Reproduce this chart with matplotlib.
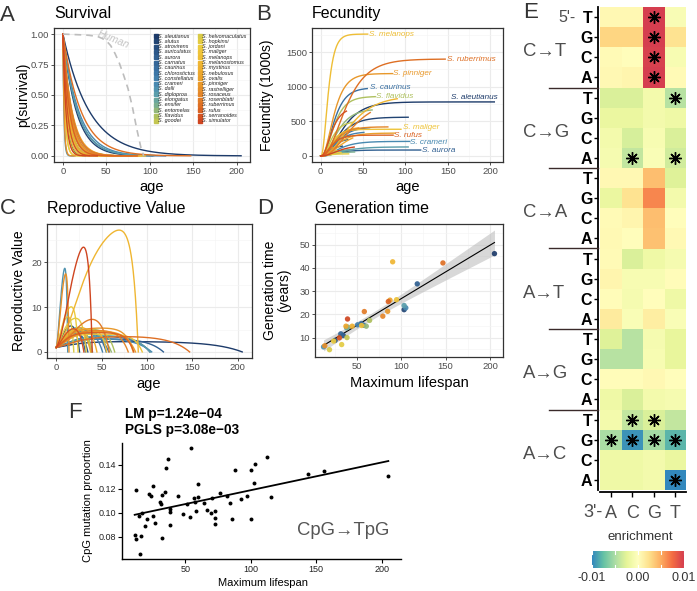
import numpy as np
import matplotlib
matplotlib.use('Agg')
import matplotlib.pyplot as plt
from matplotlib.colors import LinearSegmentedColormap
from matplotlib.lines import Line2D
from matplotlib.ticker import MultipleLocator, FormatStrFormatter

plt.rcParams['font.family'] = ['Liberation Sans', 'DejaVu Sans']

# ---------------- data: rockfish life history (panels A-D) ----------------
species = ['aleutianus', 'alutus', 'atrovirens', 'auriculatus', 'aurora', 'carnatus',
           'caurinus', 'chlorostictus', 'constellatus', 'crameri', 'dalli', 'diploproa',
           'elongatus', 'ensifer', 'entomelas', 'flavidus', 'goodei', 'helvomaculatus',
           'hopkinsi', 'jordani', 'maliger', 'melanops', 'melanostomus', 'mystinus',
           'nebulosus', 'ovalis', 'pinniger', 'rastrelliger', 'rosaceus', 'rosenblatti',
           'ruberrimus', 'rufus', 'serranoides', 'simulator']
max_age = [205, 103.3, 25.6, 34.8, 118.1, 32, 55, 57.8, 51, 105.2, 12.6, 103.3, 38.5, 40,
           60.7, 64.4, 39, 19.3, 33, 24, 94.8, 55.5, 90.4, 44.8, 37.8, 87.4, 84.8, 14, 79.3,
           58.5, 147, 85.5, 30.4, 39.6]
gen_time = [46.1, 22.0, 8.8, 10.9, 33.1, 11.6, 16.0, 15.3, 15.5, 22.8, 6.0, 23.8, 14.2, 14.5,
            14.9, 17.4, 10.0, 4.8, 7.0, 8.5, 26.3, 15.2, 42.6, 14.9, 14.9, 26.1, 21.3, 6.5,
            19.2, 21.2, 42.1, 25.5, 9.9, 18.0]
mortality = [0.033, 0.065, 0.25, 0.16, 0.06, 0.18, 0.13, 0.10, 0.12, 0.055, 0.85, 0.06, 0.16,
             0.15, 0.10, 0.13, 0.17, 0.40, 0.27, 0.40, 0.12, 0.22, 0.17, 0.15, 0.12, 0.095,
             0.13, 0.73, 0.11, 0.10, 0.048, 0.13, 0.19, 0.29]
fec_max = [780, 560, 150, 300, 85, 250, 985, 420, 350, 210, 120, 130, 100, 60, 680, 860, 500,
           80, 30, 50, 385, 1760, 870, 420, 360, 330, 1190, 140, 420, 820, 1400, 300, 700, 150]
fec_k = [0.06, 0.07, 0.15, 0.12, 0.08, 0.12, 0.10, 0.08, 0.09, 0.07, 0.25, 0.06, 0.10, 0.10,
         0.08, 0.10, 0.12, 0.20, 0.15, 0.18, 0.12, 0.18, 0.045, 0.10, 0.06, 0.08, 0.10, 0.22,
         0.09, 0.042, 0.053, 0.12, 0.12, 0.075]

human_age = [0, 10, 20, 30, 40, 45, 50, 55, 60, 65, 70, 75, 80, 85, 90, 93]
human_surv = [1.0, 0.997, 0.994, 0.99, 0.98, 0.965, 0.945, 0.905, 0.84, 0.76, 0.66, 0.55,
              0.40, 0.22, 0.06, 0.0]

labeled_fecundity = ['melanops', 'ruberrimus', 'pinniger', 'caurinus', 'flavidus',
                     'aleutianus', 'maliger', 'rufus', 'crameri', 'aurora']

# ---------------- data: panel F ----------------
lifespan_f = [12.5, 11.3, 12.5, 15.9, 15.6, 14.3, 17.1, 19.4, 20.7, 22.3, 23.6, 25.4, 25.4,
              26.6, 30.5, 31.1, 31.9, 32.4, 34.4, 35.2, 36.5, 38.3, 38.3, 38.3, 44.2, 48.1,
              51.2, 54.5, 53.7, 56.3, 57.6, 58.3, 59.6, 59.6, 63.9, 66.9, 69.5, 70.3, 72.7,
              72.7, 72.7, 76.6, 81.7, 84.2, 85.5, 87.6, 92.4, 97.1, 100.1, 100.1, 102.2,
              103.5, 112.5, 115.1, 143.3, 156.2, 205]
cpg_prop = [0.1192, 0.0811, 0.0783, 0.0803, 0.0658, 0.0970, 0.0997, 0.0886, 0.0947, 0.1158,
            0.1142, 0.1225, 0.0970, 0.0914, 0.1094, 0.1072, 0.1150, 0.0789, 0.1170, 0.1372,
            0.1447, 0.1031, 0.1003, 0.0894, 0.1142, 0.0989, 0.1072, 0.1539, 0.0967, 0.1122,
            0.1089, 0.1019, 0.1136, 0.1242, 0.1080, 0.1025, 0.0997, 0.1122, 0.1019, 0.0956,
            0.0908, 0.1169, 0.1142, 0.1081, 0.0947, 0.1356, 0.1117, 0.1142, 0.1356, 0.0947,
            0.1253, 0.1406, 0.1464, 0.1131, 0.1322, 0.1350, 0.1310]

# ---------------- data: panel E (enrichment heatmap) ----------------
mut_types = ['C→T', 'C→G', 'C→A', 'A→T', 'A→G', 'A→C']
context5 = ['T', 'G', 'C', 'A']
context3 = ['A', 'C', 'G', 'T']
enrich_CT = [[0.0006, 0.0006, 0.0105, -0.0007], [0.0030, 0.0030, 0.0100, 0.0022],
             [0.0004, 0.0002, 0.0098, -0.0008], [0.0006, 0.0008, 0.0100, 0.0004]]
enrich_CG = [[-0.0030, -0.0030, -0.0012, -0.0045], [-0.0020, -0.0020, -0.0012, -0.0016],
             [-0.0012, -0.0032, -0.0008, -0.0030], [-0.0010, -0.0040, -0.0006, -0.0034]]
enrich_CA = [[0.0006, 0.0006, 0.0042, -0.0028], [-0.0020, 0.0022, 0.0065, -0.0012],
             [0.0004, 0.0008, 0.0042, 0.0002], [0.0005, 0.0002, 0.0040, 0.0005]]
enrich_AT = [[0.0004, -0.0030, -0.0016, -0.0010], [0.0008, -0.0008, -0.0008, 0.0003],
             [0.0003, -0.0010, 0.0002, -0.0016], [0.0016, -0.0006, 0.0014, -0.0006]]
enrich_AG = [[-0.0028, -0.0045, -0.0010, -0.0022], [-0.0045, -0.0045, -0.0008, -0.0022],
             [0.0003, 0.0003, 0.0006, 0.0002], [-0.0016, -0.0030, -0.0012, -0.0010]]
enrich_AC = [[-0.0012, -0.0040, -0.0030, -0.0040], [-0.0050, -0.0095, -0.0052, -0.0080],
             [-0.0016, -0.0016, -0.0012, -0.0020], [-0.0016, -0.0016, -0.0012, -0.0100]]
significant = [(0, 2), (1, 2), (2, 2), (3, 2), (4, 3), (7, 1), (7, 3),
               (20, 1), (20, 2), (21, 0), (21, 1), (21, 2), (21, 3), (23, 3)]

# ---------------- layout helpers ----------------
W, H = 697, 591
fig = plt.figure(figsize=(W / 100, H / 100), dpi=100)


def rect(x0, y0, x1, y1):
    return [x0 / W, 1 - y1 / H, (x1 - x0) / W, (y1 - y0) / H]


def ftext(x, y, s, **kw):
    return fig.text(x / W, 1 - y / H, s, **kw)


GRAY_T = '#4d4d4d'


def bw(ax, xmaj, xmin, ymaj, ymin):
    ax.set_facecolor('white')
    for s in ax.spines.values():
        s.set_color('#333333')
        s.set_linewidth(0.9)
    ax.xaxis.set_major_locator(MultipleLocator(xmaj))
    ax.xaxis.set_minor_locator(MultipleLocator(xmin))
    ax.yaxis.set_major_locator(MultipleLocator(ymaj))
    ax.yaxis.set_minor_locator(MultipleLocator(ymin))
    ax.grid(True, which='major', color='#ebebeb', lw=0.8)
    ax.grid(True, which='minor', color='#f4f4f4', lw=0.45)
    ax.set_axisbelow(True)
    ax.tick_params(which='major', length=2.5, width=0.6, color='#333333', labelsize=6.8,
                   labelcolor=GRAY_T, pad=1.2)
    ax.tick_params(which='minor', length=0)


def expand(lo, hi, f=0.05):
    r = hi - lo
    return lo - f * r, hi + f * r


pal = LinearSegmentedColormap.from_list('rock', [
    (0.00, '#1d3b6a'), (0.10, '#2d5a8c'), (0.20, '#3b73a5'), (0.28, '#4a8cb2'),
    (0.34, '#5b9faa'), (0.40, '#7fb08c'), (0.46, '#b2c25a'), (0.52, '#dccb45'),
    (0.58, '#edcb3d'), (0.66, '#efb833'), (0.76, '#eaa02b'), (0.85, '#e4862a'),
    (0.93, '#dc6722'), (1.00, '#cf4520')])
n_sp = len(species)
colors = [pal(i / (n_sp - 1)) for i in range(n_sp)]

# life tables
curves = []
for L, M, F, k in zip(max_age, mortality, fec_max, fec_k):
    a = np.linspace(0, L, 600)
    l = np.exp(-M * a)
    f = F * (1 - np.exp(-k * a)) ** 3
    g = l * f
    seg = (g[1:] + g[:-1]) / 2 * (a[1] - a[0])
    A = np.concatenate([np.cumsum(seg[::-1])[::-1], [0.0]])
    v = A / (l * A[0])
    curves.append((a, l, f, v))

# ---------------- Panel A: Survival ----------------
axA = fig.add_axes(rect(54, 28, 250, 162))
bw(axA, 50, 25, 0.25, 0.125)
for (a, l, f, v), c in zip(curves, colors):
    axA.plot(a, l, color=c, lw=1.0)
axA.plot(human_age, human_surv, color='#bdbdbd', lw=1.2, ls=(0, (4, 3)))
axA.text(58, 0.955, 'Human', rotation=-22, color='#c4c4c4', style='italic', fontsize=7.5,
         ha='center', va='center')
axA.set_xlim(-10.25, 215.25)
axA.set_ylim(-0.05, 1.05)
axA.yaxis.set_major_formatter(FormatStrFormatter('%.2f'))
for i, (name, c) in enumerate(zip(species, colors)):
    col, row = divmod(i, 17)
    xm = 156 + col * 43.5
    ym = 36 + row * 5.3
    fig.add_artist(Line2D([xm / W], [1 - ym / H], marker='s', ms=2.2, color=c, ls='',
                          transform=fig.transFigure))
    ftext(xm + 2.5, ym, 'S. ' + name, fontsize=3.9, style='italic', color='#222222',
          ha='left', va='center')

# ---------------- Panel B: Fecundity ----------------
axB = fig.add_axes(rect(312, 28, 503, 162))
bw(axB, 50, 25, 500, 250)
for (a, l, f, v), c in zip(curves, colors):
    axB.plot(a, f, color=c, lw=1.0)
axB.set_xlim(-10.25, 215.25)
axB.set_ylim(*expand(0, max(fec_max)))
label_pos = {'melanops': (57, 0, 'left'), 'ruberrimus': (149, 0, 'left'),
             'pinniger': (85.5, 0, 'left'), 'caurinus': (58, 0, 'left'),
             'flavidus': (65, 0, 'left'), 'aleutianus': (209, 66, 'right'),
             'maliger': (97, 30, 'left'), 'rufus': (86.5, 0, 'left'),
             'crameri': (106, -15, 'left'), 'aurora': (120, -12, 'left')}
for name in labeled_fecundity:
    i = species.index(name)
    x, dy, ha = label_pos[name]
    axB.text(x, fec_max[i] + dy, 'S. ' + name, color=colors[i], style='italic', fontsize=5.9,
             ha=ha, va='center')

# ---------------- Panel C: Reproductive value ----------------
axC = fig.add_axes(rect(47, 224, 251.5, 358))
bw(axC, 50, 25, 10, 5)
vmax = 0
for (a, l, f, v), c in zip(curves, colors):
    axC.plot(a, v, color=c, lw=1.0)
    vmax = max(vmax, v.max())
axC.set_xlim(-10.25, 215.25)
axC.set_ylim(*expand(0, vmax))

# ---------------- Panel D: Generation time ----------------
axD = fig.add_axes(rect(315, 224, 503, 357))
bw(axD, 50, 25, 10, 5)
x = np.array(max_age, float)
y = np.array(gen_time, float)
b1, b0 = np.polyfit(x, y, 1)
xs = np.linspace(x.min(), x.max(), 200)
yh = b0 + b1 * xs
n = len(x)
s = np.sqrt(np.sum((y - (b0 + b1 * x)) ** 2) / (n - 2))
se = s * np.sqrt(1 / n + (xs - x.mean()) ** 2 / np.sum((x - x.mean()) ** 2))
lo, hi = yh - 2.037 * se, yh + 2.037 * se
axD.fill_between(xs, lo, hi, color='#b8b8b8', alpha=0.55, lw=0, zorder=2)
axD.plot(xs, yh, color='black', lw=0.8, zorder=3)
axD.scatter(x, y, s=15, c=colors, linewidths=0, alpha=0.92, zorder=4)
axD.set_xlim(*expand(x.min(), x.max()))
axD.set_ylim(*expand(min(y.min(), lo.min()), max(y.max(), hi.max())))

# ---------------- panel texts A-D ----------------
for lab, px, py in [('A', 0, 21), ('B', 256, 20), ('C', 0, 214), ('D', 257, 214), ('E', 523, 18),
                    ('F', 68, 418)]:
    ftext(px, py, lab, fontsize=16, color='#333333', ha='left', va='baseline')
ftext(54, 18, 'Survival', fontsize=11.5, va='baseline')
ftext(312, 18, 'Fecundity', fontsize=11.5, va='baseline')
ftext(47, 213, 'Reproductive Value', fontsize=11.5, va='baseline')
ftext(315, 213, 'Generation time', fontsize=11.5, va='baseline')
ftext(23, 95, 'p(survival)', rotation=90, ha='center', va='center', fontsize=10)
ftext(152, 187, 'age', ha='center', va='center', fontsize=10.5)
ftext(267, 95, 'Fecundity (1000s)', rotation=90, ha='center', va='center', fontsize=10)
ftext(407.5, 187, 'age', ha='center', va='center', fontsize=10.5)
ftext(19, 291, 'Reproductive Value', rotation=90, ha='center', va='center', fontsize=10)
ftext(149, 384, 'age', ha='center', va='center', fontsize=10.5)
ftext(277, 290, 'Generation time\n(years)', rotation=90, ha='center', va='center',
      multialignment='center', fontsize=10, linespacing=0.95)
ftext(409, 383, 'Maximum lifespan', ha='center', va='center', fontsize=10.5)

# ---------------- Panel E: heatmap ----------------
spectral = ['#3288bd', '#66c2a5', '#abdda4', '#e6f598', '#ffffbf', '#fee08b', '#fdae61',
            '#f46d43', '#d53e4f']
cmE = LinearSegmentedColormap.from_list('spec', spectral)
Z = np.array(enrich_CT + enrich_CG + enrich_CA + enrich_AT + enrich_AG + enrich_AC)
axE = fig.add_axes(rect(600, 7, 686, 490))
axE.pcolormesh(np.arange(5), np.arange(25), Z, cmap=cmE, vmin=-0.01, vmax=0.01,
               shading='flat')
axE.set_xlim(0, 4)
axE.set_ylim(24, 0)
for sname in ['top', 'right']:
    axE.spines[sname].set_visible(False)
for sname in ['left', 'bottom']:
    axE.spines[sname].set_linewidth(1.3)
    axE.spines[sname].set_color('black')
    axE.spines[sname].set_position(('outward', 1.5))
axE.set_yticks(np.arange(24) + 0.5)
axE.set_yticklabels(context5 * len(mut_types), fontweight='bold', fontsize=11.5, color='black')
axE.set_xticks(np.arange(4) + 0.5)
axE.set_xticklabels(context3, fontsize=13, color=GRAY_T)
axE.tick_params(axis='y', length=3, width=1, pad=1, color='black')
axE.tick_params(axis='x', length=3.5, width=1, pad=6, color='black')
for r, c in significant:
    axE.plot(c + 0.5, r + 0.5, marker=(8, 2, 0), ms=9, mew=1.0, color='black')
    axE.plot(c + 0.5, r + 0.5, marker='o', ms=3.2, color='black', mew=0)
row_h = (490 - 7) / 24
for gi, mt in enumerate(mut_types):
    yc = 7 + (gi * 4 + 2) * row_h + 4.5
    ftext(523, yc, mt, fontsize=13.3, color=GRAY_T, ha='left', va='center')
    if gi > 0:
        yl = 1 - (7 + gi * 4 * row_h) / H
        fig.add_artist(Line2D([549 / W, 598 / W], [yl, yl], color='#3a2a2a', lw=1.0,
                              transform=fig.transFigure))
ftext(576, 7 + 0.5 * row_h, "5'-", fontsize=11.5, color=GRAY_T, ha='right', va='center')
ftext(602.5, 512.5, "3'-", fontsize=13, color=GRAY_T, ha='right', va='center')

# colourbar
axK = fig.add_axes(rect(592, 551, 684, 568))
grad = np.linspace(-0.01, 0.01, 256)[None, :]
axK.imshow(grad, aspect='auto', cmap=cmE, extent=[-0.01, 0.01, 0, 1], vmin=-0.01, vmax=0.01)
for v in [-0.01, -0.005, 0, 0.005, 0.01]:
    axK.plot([v, v], [0, 0.2], color='white', lw=0.8)
    axK.plot([v, v], [0.8, 1], color='white', lw=0.8)
axK.set_xlim(-0.01, 0.01)
axK.set_ylim(0, 1)
axK.set_yticks([])
axK.set_xticks([-0.01, 0, 0.01])
axK.set_xticklabels(['-0.01', '0.00', '0.01'], fontsize=9, color='#333333')
axK.tick_params(axis='x', length=0, pad=3)
for sp in axK.spines.values():
    sp.set_visible(False)
ftext(640, 537, 'enrichment', fontsize=9.5, color='#333333', ha='center', va='center')

# ---------------- Panel F ----------------
axF = fig.add_axes(rect(122, 443, 401, 559))
xf = np.array(lifespan_f, float)
yf = np.array(cpg_prop, float)
c1, c0 = np.polyfit(xf, yf, 1)
xl = np.array([xf.min(), xf.max()])
axF.plot(xl, c0 + c1 * xl, color='black', lw=1.3, zorder=2)
axF.scatter(xf, yf, s=8, color='black', linewidths=0, zorder=3)
axF.set_xlim(*expand(xf.min(), xf.max()))
axF.set_ylim(*expand(yf.min(), yf.max()))
axF.xaxis.set_major_locator(MultipleLocator(50))
axF.yaxis.set_major_locator(MultipleLocator(0.02))
axF.yaxis.set_major_formatter(FormatStrFormatter('%.2f'))
for sname in ['top', 'right']:
    axF.spines[sname].set_visible(False)
for sname in ['left', 'bottom']:
    axF.spines[sname].set_linewidth(1.0)
    axF.spines[sname].set_color('black')
axF.tick_params(length=3, width=0.8, color='black', labelsize=6.5, labelcolor='#222222', pad=1.5)
ftext(125, 418, 'LM p=1.24e\u221204', fontsize=9.8, fontweight='bold', va='baseline')
ftext(125, 434, 'PGLS p=3.08e\u221203', fontsize=9.8, fontweight='bold', va='baseline')
ftext(88, 501, 'CpG mutation proportion', rotation=90, ha='center', va='center', fontsize=8)
ftext(263, 583, 'Maximum lifespan', ha='center', va='center', fontsize=8)
ftext(297, 535, 'CpG→TpG', fontsize=13.3, color='#555555', fontweight='light',
      ha='left', va='baseline')

fig.savefig('out.png', dpi=100)
